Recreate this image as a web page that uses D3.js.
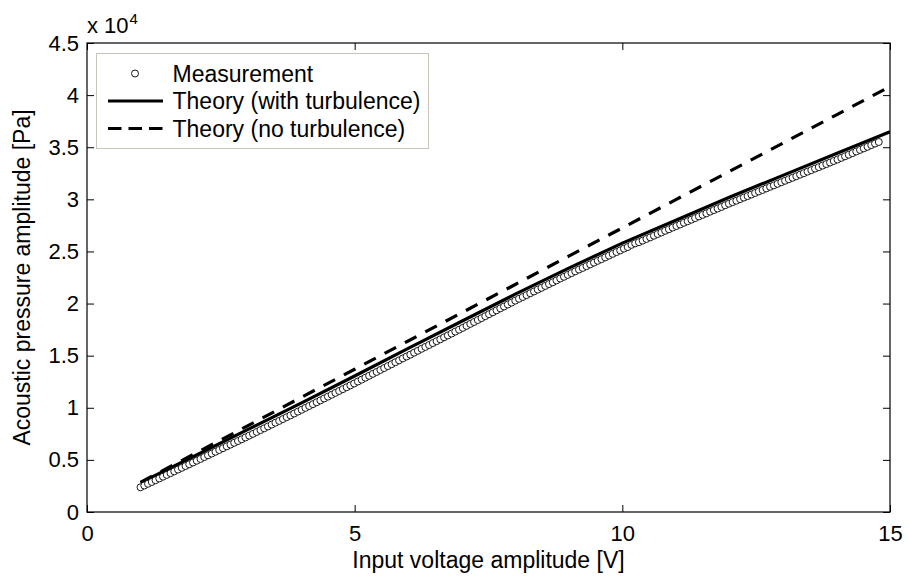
<!DOCTYPE html>
<html>
<head>
<meta charset="utf-8">
<script src="https://cdn.jsdelivr.net/npm/d3@7"></script>
<style>
  html, body { margin: 0; padding: 0; background: #fff; }
  svg { display: block; font-family: "Liberation Sans", Arial, Helvetica, sans-serif; }
</style>
</head>
<body>
<svg id="chart" width="909" height="579"></svg>
<script>
// ---- Data ----
const measVoltage = [
  1.00,1.07,1.14,1.21,1.28,1.35,1.42,1.49,1.56,1.63,1.70,1.77,1.84,1.91,1.98,
  2.05,2.12,2.19,2.26,2.33,2.40,2.47,2.54,2.61,2.68,2.75,2.82,2.89,2.96,
  3.03,3.10,3.17,3.24,3.31,3.38,3.45,3.52,3.59,3.66,3.73,3.80,3.87,3.94,
  4.01,4.08,4.15,4.22,4.29,4.36,4.43,4.50,4.57,4.64,4.71,4.78,4.85,4.92,4.99,
  5.06,5.13,5.20,5.27,5.34,5.41,5.48,5.55,5.62,5.69,5.76,5.83,5.90,5.97,
  6.04,6.11,6.18,6.25,6.32,6.39,6.46,6.53,6.60,6.67,6.74,6.81,6.88,6.95,
  7.02,7.09,7.16,7.23,7.30,7.37,7.44,7.51,7.58,7.65,7.72,7.79,7.86,7.93,
  8.00,8.07,8.14,8.21,8.28,8.35,8.42,8.49,8.56,8.63,8.70,8.77,8.84,8.91,8.98,
  9.05,9.12,9.19,9.26,9.33,9.40,9.47,9.54,9.61,9.68,9.75,9.82,9.89,9.96,
  10.03,10.10,10.17,10.24,10.31,10.38,10.45,10.52,10.59,10.66,10.73,10.80,10.87,10.94,
  11.01,11.08,11.15,11.22,11.29,11.36,11.43,11.50,11.57,11.64,11.71,11.78,11.85,11.92,11.99,
  12.06,12.13,12.20,12.27,12.34,12.41,12.48,12.55,12.62,12.69,12.76,12.83,12.90,12.97,
  13.04,13.11,13.18,13.25,13.32,13.39,13.46,13.53,13.60,13.67,13.74,13.81,13.88,13.95,
  14.02,14.09,14.16,14.23,14.30,14.37,14.44,14.51,14.58,14.65,14.72,14.79
];
const measPressure = [
  2370,2540,2710,2880,3050,3220,3390,3560,3730,3900,4070,4240,4410,4580,4750,
  4920,5090,5270,5440,5610,5780,5950,6120,6300,6470,6640,6810,6980,7150,
  7330,7500,7680,7860,8030,8210,8390,8570,8740,8920,9100,9270,9450,9630,
  9810,9990,10170,10350,10530,10710,10890,11070,11250,11430,11610,11790,11970,12150,12330,
  12520,12700,12890,13070,13260,13440,13630,13810,14000,14180,14370,14550,14740,14920,
  15100,15290,15470,15660,15840,16020,16210,16390,16570,16760,16940,17120,17310,17490,
  17670,17860,18050,18230,18420,18600,18790,18980,19160,19350,19540,19720,19910,20090,
  20280,20460,20630,20810,20990,21160,21340,21510,21690,21870,22040,22220,22400,22570,22750,
  22920,23090,23260,23420,23590,23760,23930,24100,24260,24430,24600,24770,24940,25100,
  25270,25420,25630,25780,25890,26040,26200,26350,26510,26670,26820,26980,27130,27290,
  27440,27590,27750,27900,28050,28200,28360,28510,28660,28820,28970,29120,29270,29430,29580,
  29730,29870,30020,30170,30310,30460,30610,30760,30900,31050,31200,31340,31490,31640,
  31780,31930,32070,32220,32370,32510,32660,32800,32950,33090,33240,33380,33530,33680,
  33820,33980,34130,34280,34430,34590,34740,34890,35040,35200,35350,35500
];
const theoryVoltage = [1,2,3,4,5,6,7,8,9,10,11,12,13,14,15];
const theoryTurb = [2810,5350,7900,10450,13050,15700,18300,20900,23400,25800,28000,30200,32300,34400,36490];
const theoryNoTurb = [2850,5560,8270,10990,13700,16410,19120,21830,24550,27260,29970,32680,35390,38110,40820];

const xTicks = [0, 5, 10, 15];
const xTickLabels = ["0", "5", "10", "15"];
const yTicks = [0, 5000, 10000, 15000, 20000, 25000, 30000, 35000, 40000, 45000];
const yTickLabels = ["0", "0.5", "1", "1.5", "2", "2.5", "3", "3.5", "4", "4.5"];
const legendLabels = ["Measurement", "Theory (with turbulence)", "Theory (no turbulence)"];
const xLabel = "Input voltage amplitude [V]";
const yLabel = "Acoustic pressure amplitude [Pa]";

// ---- Layout ----
const svg = d3.select("#chart");
const L = 87, R = 890, T = 43, B = 512;
const x = d3.scaleLinear().domain([0, 15]).range([L, R]);
const y = d3.scaleLinear().domain([0, 45000]).range([B, T]);
const fsTick = 22, fsText = 23;
const FONT = "Liberation Sans, Arial, sans-serif";

svg.append("defs").append("clipPath").attr("id", "clip")
  .append("rect").attr("x", L).attr("y", T).attr("width", R - L).attr("height", B - T);

const plot = svg.append("g").attr("clip-path", "url(#clip)");

const line = d3.line().x(d => x(d[0])).y(d => y(d[1]));
plot.append("path")
  .datum(theoryVoltage.map((v, i) => [v, theoryNoTurb[i]]))
  .attr("d", line).attr("fill", "none").attr("stroke", "#000")
  .attr("stroke-width", 3.2).attr("stroke-dasharray", "13,10");
plot.append("path")
  .datum(theoryVoltage.map((v, i) => [v, theoryTurb[i]]))
  .attr("d", line).attr("fill", "none").attr("stroke", "#000")
  .attr("stroke-width", 3.2);

plot.selectAll("circle.meas")
  .data(measVoltage.map((v, i) => [v, measPressure[i]]))
  .enter().append("circle").attr("class", "meas")
  .attr("cx", d => x(d[0])).attr("cy", d => y(d[1]))
  .attr("r", 3.5).attr("fill", "#fff").attr("stroke", "#000").attr("stroke-width", 0.9);

// Axes (ticks inward)
const tickLen = 7;
const axB = d3.axisBottom(x).tickValues(xTicks).tickFormat((d, i) => xTickLabels[i]).tickSizeInner(-tickLen).tickSizeOuter(0).tickPadding(13);
const axT = d3.axisTop(x).tickValues(xTicks).tickFormat("").tickSizeInner(-tickLen).tickSizeOuter(0);
const axL = d3.axisLeft(y).tickValues(yTicks).tickFormat((d, i) => yTickLabels[i]).tickSizeInner(-tickLen).tickSizeOuter(0).tickPadding(8);
const axR = d3.axisRight(y).tickValues(yTicks).tickFormat("").tickSizeInner(-tickLen).tickSizeOuter(0);

function styleAxis(g) {
  g.select(".domain").remove();
  g.selectAll("line").attr("stroke", "#000").attr("stroke-width", 1);
  g.selectAll("text").attr("fill", "#000").attr("font-size", fsTick).attr("font-family", FONT);
}
svg.append("g").attr("transform", `translate(0,${B})`).call(axB).call(styleAxis);
svg.append("g").attr("transform", `translate(0,${T})`).call(axT).call(styleAxis);
svg.append("g").attr("transform", `translate(${L},0)`).call(axL).call(styleAxis);
svg.append("g").attr("transform", `translate(${R},0)`).call(axR).call(styleAxis);

svg.append("rect").attr("x", L).attr("y", T).attr("width", R - L).attr("height", B - T)
  .attr("fill", "none").attr("stroke", "#000").attr("stroke-width", 1.2);

// Exponent label
const ex = svg.append("text").attr("x", 87).attr("y", 33).attr("font-size", 22).attr("fill", "#000");
ex.append("tspan").text("x 10");
ex.append("tspan").attr("dx", 1).attr("dy", -9).attr("font-size", 15).text("4");

// Axis titles
svg.append("text").attr("x", (L + R) / 2).attr("y", 568).attr("text-anchor", "middle")
  .attr("font-size", fsText).attr("fill", "#000").text(xLabel);
svg.append("text").attr("transform", `translate(30,${(T + B) / 2}) rotate(-90)`).attr("text-anchor", "middle")
  .attr("font-size", fsText).attr("fill", "#000").text(yLabel);

// Legend
const lg = svg.append("g");
const rowY = [73.5, 101, 128.5];
const lx0 = 108, lx1 = 163, tx = 172.5;
const legRect = lg.append("rect").attr("x", 96.5).attr("y", 53.5).attr("height", 95)
  .attr("fill", "#fff").attr("stroke", "#c8c4bc").attr("stroke-width", 1);
lg.append("circle").attr("cx", 135).attr("cy", rowY[0]).attr("r", 3.5)
  .attr("fill", "#fff").attr("stroke", "#000").attr("stroke-width", 0.9);
lg.append("line").attr("x1", lx0).attr("x2", lx1).attr("y1", rowY[1]).attr("y2", rowY[1])
  .attr("stroke", "#000").attr("stroke-width", 3.2);
lg.append("line").attr("x1", lx0).attr("x2", lx1).attr("y1", rowY[2]).attr("y2", rowY[2])
  .attr("stroke", "#000").attr("stroke-width", 3.2).attr("stroke-dasharray", "13.5,7");
const lt = lg.selectAll("text.leg").data(legendLabels).enter().append("text").attr("class", "leg")
  .attr("x", tx).attr("y", (d, i) => rowY[i]).attr("dy", "0.36em")
  .attr("font-size", fsText).attr("fill", "#000").text(d => d);
let maxW = 0;
lt.each(function () { maxW = Math.max(maxW, this.getComputedTextLength()); });
legRect.attr("width", tx + maxW + 8 - 96.5);
</script>
</body>
</html>
